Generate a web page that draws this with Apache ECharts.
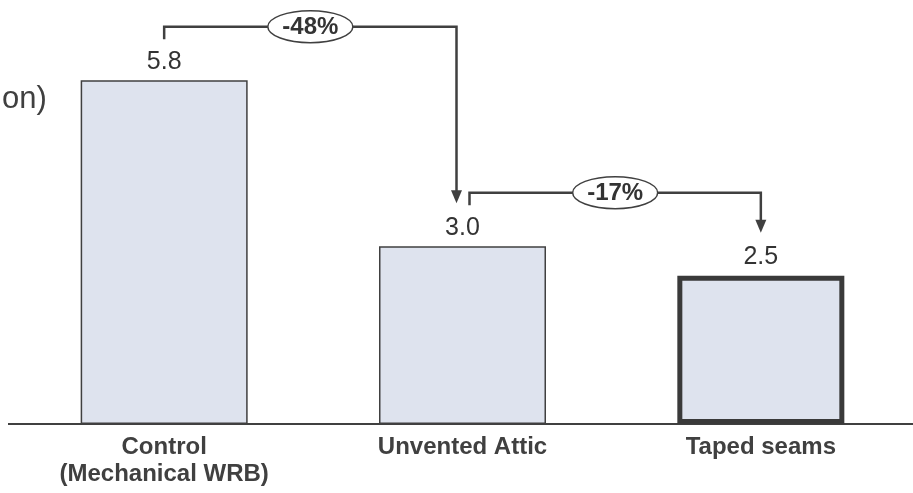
<!DOCTYPE html>
<html>
<head>
<meta charset="utf-8">
<script src="https://cdn.jsdelivr.net/npm/echarts@6/dist/echarts.min.js"></script>
<style>
  html, body { margin: 0; padding: 0; background: #fff; }
  #chart { width: 913px; height: 493px; }
</style>
</head>
<body>
<div id="chart"></div>
<script>
// Chart data
const categories = ['Control\n(Mechanical WRB)', 'Unvented Attic', 'Taped seams'];
const values = [5.8, 3.0, 2.5];
const highlightIndex = 2;          // bar drawn with a heavy outline
const unitText = 'on)';            // tail of the unit caption at the left edge
// Comparisons drawn as bracket arrows: [from, to]
const comparisons = [[0, 1], [1, 2]];

const ink = '#404040';
const barFill = '#dee3ee';
const fontFamily = '"Liberation Sans", Arial, Helvetica, sans-serif';

const chart = echarts.init(document.getElementById('chart'), null, { renderer: 'canvas' });

chart.setOption({
  animation: false,
  grid: { left: 15, right: 3, top: 9, bottom: 69 },
  xAxis: {
    type: 'category',
    data: categories,
    axisLine: { lineStyle: { color: ink, width: 2 } },
    axisTick: { show: false },
    axisLabel: {
      fontSize: 24, fontWeight: 'bold', color: ink, margin: 10,
      lineHeight: 27, fontFamily: fontFamily
    }
  },
  yAxis: { type: 'value', min: 0, max: 7, show: false },
  series: [{
    type: 'bar',
    barWidth: 167,
    data: values.map((v, i) => ({
      value: v,
      itemStyle: { borderWidth: i === highlightIndex ? 5 : 1.5, borderColor: i === highlightIndex ? '#3a3a3a' : ink }
    })),
    itemStyle: { color: barFill, borderColor: ink },
    label: {
      show: true, position: 'top', distance: 6,
      fontSize: 25, color: '#333', fontFamily: fontFamily,
      formatter: p => p.value.toFixed(1)
    }
  }]
});

// Annotation layer: brackets with percent-change badges
function px(i) { return chart.convertToPixel({ xAxisIndex: 0, yAxisIndex: 0 }, [i, values[i]]); }
const base = chart.convertToPixel({ yAxisIndex: 0 }, 0);

const graphics = [];
const lineStyle = { stroke: ink, lineWidth: 2.5, fill: null };

function arrowHead(x, tipY) {
  graphics.push({
    type: 'polygon', silent: true,
    shape: { points: [[x - 5.5, tipY - 13], [x + 5.5, tipY - 13], [x, tipY]] },
    style: { fill: ink }
  });
}

comparisons.forEach(([a, b], k) => {
  const [xa, ya] = px(a);
  const [xb, yb] = px(b);
  const startX = k === 0 ? xa : xa + 7;
  const endX = k === 0 ? xb - 6 : xb;
  const startY = ya - 41;
  const topY = ya - 53.5;
  const tipY = yb - 43;
  graphics.push({
    type: 'polyline', silent: true,
    shape: { points: [[startX, startY], [startX, topY], [endX, topY], [endX, tipY - 12]] },
    style: lineStyle
  });
  arrowHead(endX, tipY);
  const pct = Math.round((values[b] - values[a]) / values[a] * 100);
  const cx = (startX + endX) / 2;
  graphics.push({
    type: 'ellipse', silent: true,
    shape: { cx: cx, cy: topY, rx: 42.5, ry: 16 },
    style: { fill: '#fff', stroke: ink, lineWidth: 1.5 }
  });
  graphics.push({
    type: 'text', silent: true,
    x: cx, y: topY + 1,
    style: {
      text: pct + '%', fontSize: 24, fontWeight: 'bold', fill: '#333',
      fontFamily: fontFamily, align: 'center', verticalAlign: 'middle'
    }
  });
});

// Baseline extended across the full width
graphics.push({
  type: 'line', silent: true, z: -1,
  shape: { x1: 8, y1: base, x2: 913, y2: base },
  style: { stroke: ink, lineWidth: 2 }
});

// Unit caption tail
graphics.push({
  type: 'text', silent: true,
  x: 2, y: 99,
  style: { text: unitText, fontSize: 31, fill: ink, fontFamily: fontFamily, verticalAlign: 'middle' }
});

chart.setOption({ graphic: graphics });
</script>
</body>
</html>
